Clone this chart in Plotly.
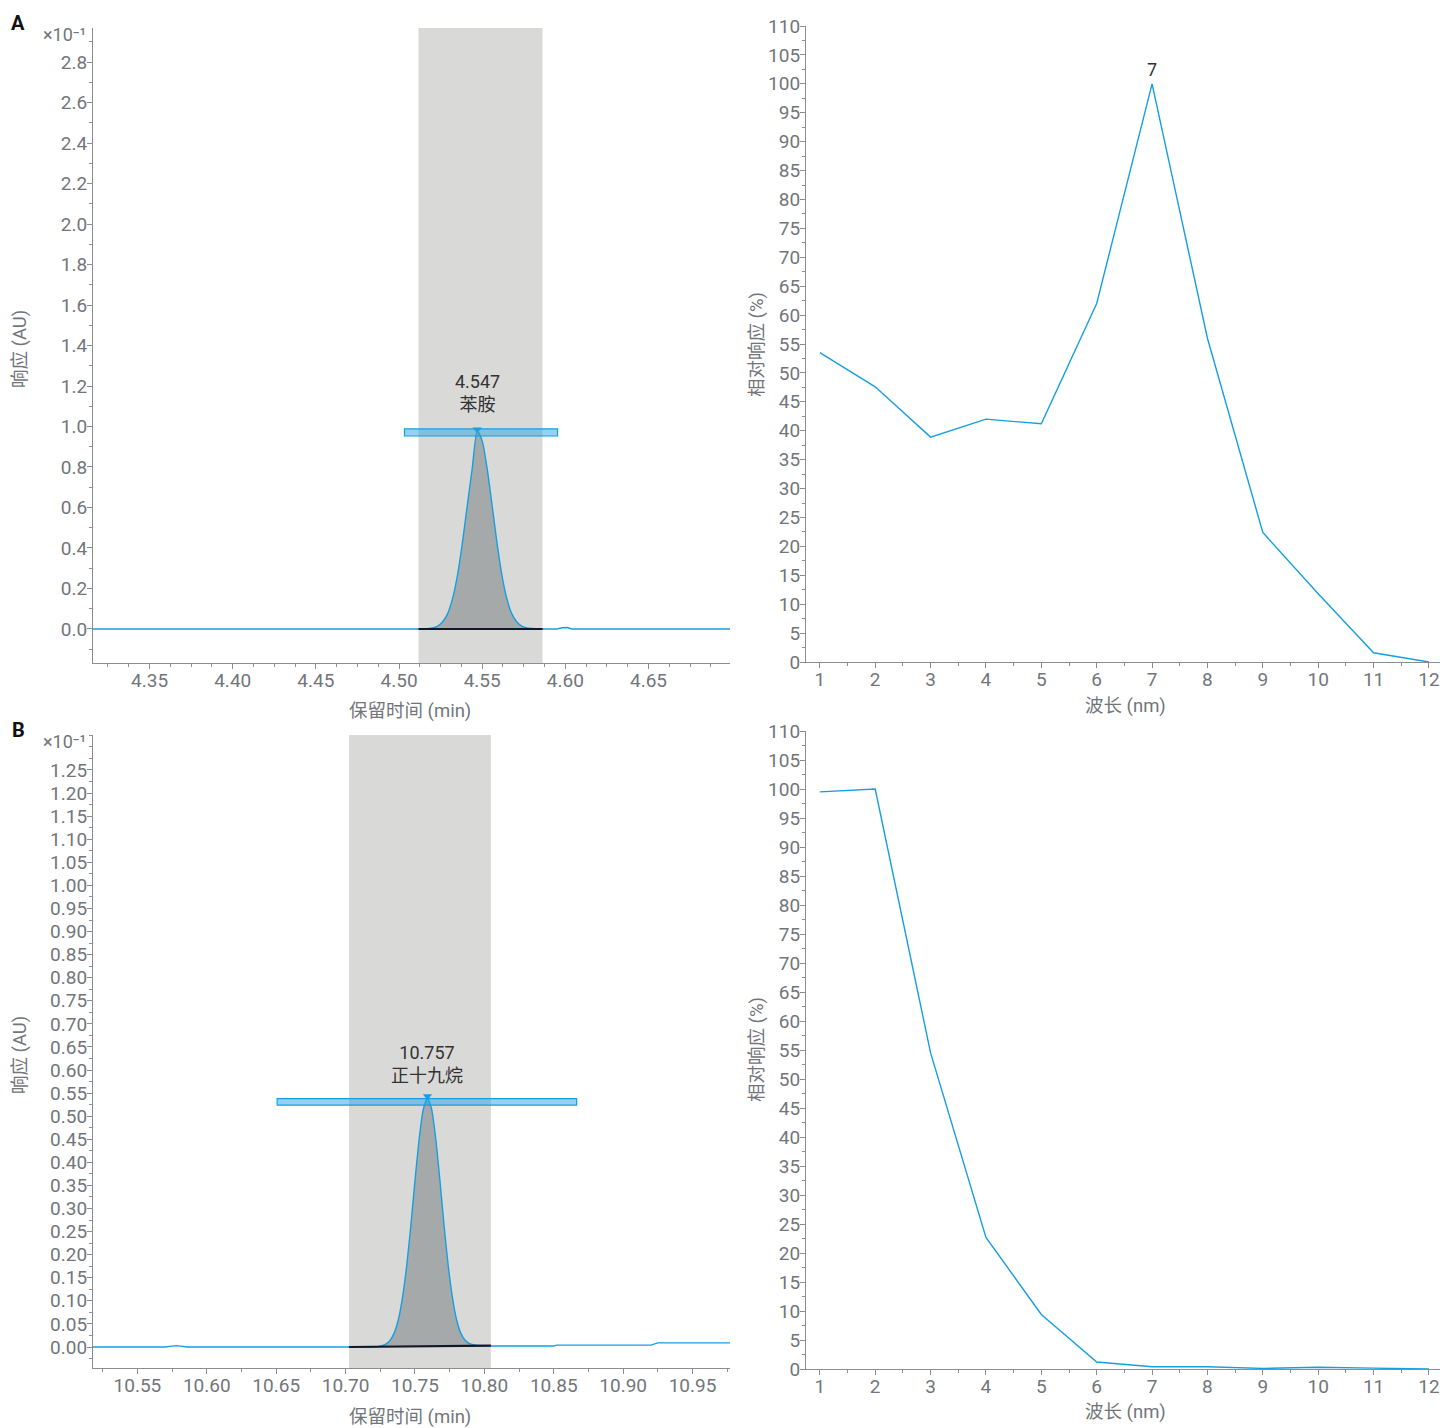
import plotly.graph_objects as go

# ---------------- data ----------------
# Panel A chromatogram (x: min, y: x10^-1 AU)
a_base_t = [4.316, 4.40, 4.50, 4.5117]
a_base_r = [0.0, 0.0, 0.0, 0.0]
a_peak_t = [4.5117, 4.517, 4.520, 4.523, 4.526, 4.529, 4.532, 4.535, 4.538, 4.541, 4.544,
            4.547, 4.550, 4.553, 4.556, 4.559, 4.562, 4.565, 4.568, 4.571, 4.574, 4.577, 4.5863]
a_peak_r = [0.0, 0.002, 0.005, 0.013, 0.033, 0.072, 0.145, 0.259, 0.419, 0.608, 0.792,
            0.98, 0.929, 0.792, 0.608, 0.419, 0.259, 0.145, 0.072, 0.033, 0.013, 0.005, 0.0]
a_tail_t = [4.5863, 4.595, 4.598, 4.601, 4.604, 4.62, 4.699]
a_tail_r = [0.0, 0.0, 0.006, 0.007, 0.0, 0.0, 0.0]
a_window = [4.5117, 4.5863]
a_bar_t = [4.5033, 4.5953]
a_bar_r = [0.953, 0.988]
a_apex = (4.547, 0.985)
a_label = "4.547<br>苯胺"

# Panel B chromatogram
b_base_t = [10.518, 10.570, 10.575, 10.578, 10.581, 10.586, 10.65, 10.7025]
b_base_r = [0.0, 0.0, 0.002, 0.003, 0.002, 0.0, 0.0, 0.0]
b_peak_t = [10.7025, 10.717, 10.724, 10.729, 10.732, 10.735, 10.738, 10.741, 10.744, 10.747, 10.750,
            10.753, 10.756, 10.759, 10.762, 10.765, 10.768, 10.771, 10.774, 10.777, 10.780,
            10.783, 10.786, 10.789, 10.794, 10.800, 10.8047]
b_peak_r = [0.0, 0.0, 0.001, 0.006, 0.014, 0.030, 0.059, 0.107, 0.175, 0.262, 0.360,
            0.450, 0.515, 0.539, 0.515, 0.450, 0.360, 0.262, 0.175, 0.107, 0.059,
            0.030, 0.015, 0.008, 0.004, 0.003, 0.003]
b_tail_t = [10.8047, 10.85, 10.852, 10.92, 10.925, 10.977]
b_tail_r = [0.002, 0.002, 0.004, 0.004, 0.009, 0.009]
b_window = [10.7025, 10.8047]
b_window_base = [0.0, 0.003]
b_bar_t = [10.6507, 10.8665]
b_bar_r = [0.524, 0.538]
b_apex = (10.759, 0.543)
b_label = "10.757<br>正十九烷"

# Spectra
wl = [1, 2, 3, 4, 5, 6, 7, 8, 9, 10, 11, 12]
spec_a = [53.5, 47.6, 38.9, 42.0, 41.2, 62.0, 100.0, 56.0, 22.4, 11.8, 1.6, 0.0]
spec_b = [99.5, 100.0, 54.5, 22.7, 9.4, 1.2, 0.4, 0.4, 0.1, 0.3, 0.15, 0.0]

# ---------------- styling ----------------
W, H = 1442, 1428
BLUE = "#169fe0"
AXIS = "#8a8d91"
TICKC = "#72767b"
FONT = "Roboto, 'Noto Sans CJK SC', sans-serif"


def px(x):
    return x / W


def py(y):
    return 1 - y / H


def dx(a, b):
    return [px(a), px(b)]


def dy(top, bottom):
    return [py(bottom), py(top)]


fig = go.Figure()

axis_common = dict(showline=True, linecolor=AXIS, linewidth=1.2, ticks="outside",
                   ticklen=5, tickcolor=AXIS, showgrid=False, zeroline=False, automargin=False,
                   tickfont=dict(family=FONT, size=19, color=TICKC))
xaxis_common = dict(axis_common, ticklabelstandoff=-5)
yaxis_common = dict(axis_common, ticklabelstandoff=-4)


def add_chrom(xa, ya, base_t, base_r, peak_t, peak_r, tail_t, tail_r):
    fig.add_trace(go.Scatter(x=peak_t, y=peak_r, mode="lines", fill="tozeroy",
                             fillcolor="#a6a9aa", line=dict(color=BLUE, width=1.4, shape="spline", smoothing=0.6),
                             xaxis=xa, yaxis=ya, showlegend=False, hoverinfo="skip"))
    fig.add_trace(go.Scatter(x=base_t, y=base_r, mode="lines", line=dict(color=BLUE, width=1.4),
                             xaxis=xa, yaxis=ya, showlegend=False, hoverinfo="skip"))
    fig.add_trace(go.Scatter(x=tail_t, y=tail_r, mode="lines", line=dict(color=BLUE, width=1.4),
                             xaxis=xa, yaxis=ya, showlegend=False, hoverinfo="skip"))


# ---- Panel A left ----
add_chrom("x", "y", a_base_t, a_base_r, a_peak_t, a_peak_r, a_tail_t, a_tail_r)
fig.add_trace(go.Scatter(x=a_window, y=[0, 0], mode="lines", line=dict(color="#111827", width=2.2),
                         xaxis="x", yaxis="y", showlegend=False, hoverinfo="skip"))
fig.add_trace(go.Scatter(x=[a_apex[0]], y=[a_apex[1]], mode="markers",
                         marker=dict(symbol="triangle-down", size=8, color=BLUE),
                         xaxis="x", yaxis="y", showlegend=False, hoverinfo="skip"))

# ---- Panel B left ----
add_chrom("x3", "y3", b_base_t, b_base_r, b_peak_t, b_peak_r, b_tail_t, b_tail_r)
fig.add_trace(go.Scatter(x=b_window, y=b_window_base, mode="lines", line=dict(color="#111827", width=2.2),
                         xaxis="x3", yaxis="y3", showlegend=False, hoverinfo="skip"))
fig.add_trace(go.Scatter(x=[b_apex[0]], y=[b_apex[1]], mode="markers",
                         marker=dict(symbol="triangle-down", size=8, color=BLUE),
                         xaxis="x3", yaxis="y3", showlegend=False, hoverinfo="skip"))

# ---- Spectra ----
fig.add_trace(go.Scatter(x=wl, y=spec_a, mode="lines", line=dict(color=BLUE, width=1.4),
                         xaxis="x2", yaxis="y2", showlegend=False, hoverinfo="skip"))
fig.add_trace(go.Scatter(x=wl, y=spec_b, mode="lines", line=dict(color=BLUE, width=1.4),
                         xaxis="x4", yaxis="y4", showlegend=False, hoverinfo="skip"))

# shapes: integration windows and peak bars
shapes = [
    dict(type="rect", xref="x", yref="y domain", x0=a_window[0], x1=a_window[1], y0=0, y1=1,
         fillcolor="#d9d9d8", line=dict(width=0), layer="below"),
    dict(type="rect", xref="x3", yref="y3 domain", x0=b_window[0], x1=b_window[1], y0=0, y1=1,
         fillcolor="#d9d9d8", line=dict(width=0), layer="below"),
    dict(type="rect", xref="x", yref="y", x0=a_bar_t[0], x1=a_bar_t[1], y0=a_bar_r[0], y1=a_bar_r[1],
         fillcolor="rgba(40,165,228,0.5)", line=dict(color=BLUE, width=1.2), layer="above"),
    dict(type="rect", xref="x3", yref="y3", x0=b_bar_t[0], x1=b_bar_t[1], y0=b_bar_r[0], y1=b_bar_r[1],
         fillcolor="rgba(40,165,228,0.5)", line=dict(color=BLUE, width=1.2), layer="above"),
]

ann_font = dict(family=FONT, size=18, color="#333333")
title_font = dict(family=FONT, size=18.5, color=TICKC)


def paper_text(x, y, text, font, angle=0):
    return dict(x=px(x), y=py(y), xref="paper", yref="paper", text=text, textangle=angle,
                showarrow=False, xanchor="center", yanchor="middle", font=font)


annotations = [
    dict(x=a_apex[0], y=a_apex[1], xref="x", yref="y", text=a_label, showarrow=False,
         xanchor="center", yanchor="bottom", yshift=13, font=ann_font),
    dict(x=b_apex[0], y=b_apex[1], xref="x3", yref="y3", text=b_label, showarrow=False,
         xanchor="center", yanchor="bottom", yshift=8, font=ann_font),
    dict(x=wl[spec_a.index(max(spec_a))], y=max(spec_a), xref="x2", yref="y2", text="7",
         showarrow=False, xanchor="center", yanchor="bottom", yshift=2, font=ann_font),
    # panel letters
    paper_text(18, 23, "<b>A</b>", dict(family=FONT, size=20, color="#111111")),
    paper_text(18, 730, "<b>B</b>", dict(family=FONT, size=20, color="#111111")),
    # exponent labels
    paper_text(64, 34, "×10⁻¹", dict(family=FONT, size=18, color=TICKC)),
    paper_text(64, 741, "×10⁻¹", dict(family=FONT, size=18, color=TICKC)),
    # axis titles
    paper_text(20, 349, "响应 (AU)", title_font, -90),
    paper_text(20, 1055, "响应 (AU)", title_font, -90),
    paper_text(410, 711, "保留时间 (min)", title_font),
    paper_text(410, 1417, "保留时间 (min)", title_font),
    paper_text(757, 345, "相对响应 (%)", title_font, -90),
    paper_text(757, 1050, "相对响应 (%)", title_font, -90),
    paper_text(1125, 706, "波长 (nm)", title_font),
    paper_text(1125, 1412, "波长 (nm)", title_font),
]

minor_x_a = dict(dtick=0.0125, tick0=4.35, ticklen=3, ticks="outside", tickcolor=AXIS)
minor_x_b = dict(dtick=0.025, tick0=10.55, ticklen=3, ticks="outside", tickcolor=AXIS)

ya_vals = [round(0.2 * i, 1) for i in range(15)]
yb_vals = [round(0.05 * i, 2) for i in range(26)]

fig.update_layout(
    width=W, height=H, autosize=False,
    margin=dict(l=0, r=0, t=0, b=0, autoexpand=False),
    paper_bgcolor="white", plot_bgcolor="white",
    font=dict(family=FONT),
    xaxis=dict(xaxis_common, domain=dx(93, 730), range=[4.316, 4.699], anchor="y",
               tickvals=[4.35, 4.40, 4.45, 4.50, 4.55, 4.60, 4.65], tickformat=".2f", minor=minor_x_a),
    yaxis=dict(yaxis_common, domain=dy(28, 663), range=[-0.168, 2.968], anchor="x",
               tickvals=ya_vals, tickformat=".1f",
               minor=dict(dtick=0.1, tick0=0, ticklen=3, ticks="outside", tickcolor=AXIS)),
    xaxis2=dict(xaxis_common, domain=dx(806, 1440), range=[0.75, 12.2], anchor="y2",
                dtick=1, tick0=1, minor=dict(dtick=0.5, tick0=1, ticklen=3, ticks="outside", tickcolor=AXIS)),
    yaxis2=dict(yaxis_common, domain=dy(26, 662), range=[0, 110], anchor="x2",
                dtick=5, tick0=0, minor=dict(dtick=2.5, tick0=0, ticklen=3, ticks="outside", tickcolor=AXIS)),
    xaxis3=dict(xaxis_common, domain=dx(93, 730), range=[10.518, 10.977], anchor="y3",
                tickvals=[10.55, 10.60, 10.65, 10.70, 10.75, 10.80, 10.85, 10.90, 10.95],
                tickformat=".2f", minor=minor_x_b),
    yaxis3=dict(yaxis_common, domain=dy(735, 1368), range=[-0.0455, 1.3258], anchor="x3",
                tickvals=yb_vals, tickformat=".2f",
                minor=dict(dtick=0.025, tick0=0, ticklen=3, ticks="outside", tickcolor=AXIS)),
    xaxis4=dict(xaxis_common, domain=dx(806, 1440), range=[0.75, 12.2], anchor="y4",
                dtick=1, tick0=1, minor=dict(dtick=0.5, tick0=1, ticklen=3, ticks="outside", tickcolor=AXIS)),
    yaxis4=dict(yaxis_common, domain=dy(731, 1369), range=[0, 110], anchor="x4",
                dtick=5, tick0=0, minor=dict(dtick=2.5, tick0=0, ticklen=3, ticks="outside", tickcolor=AXIS)),
    shapes=shapes,
    annotations=annotations,
)

fig.write_html("out.html", config={"displayModeBar": False},
               post_script="document.body.style.margin='0px';document.body.style.overflow='hidden';")
